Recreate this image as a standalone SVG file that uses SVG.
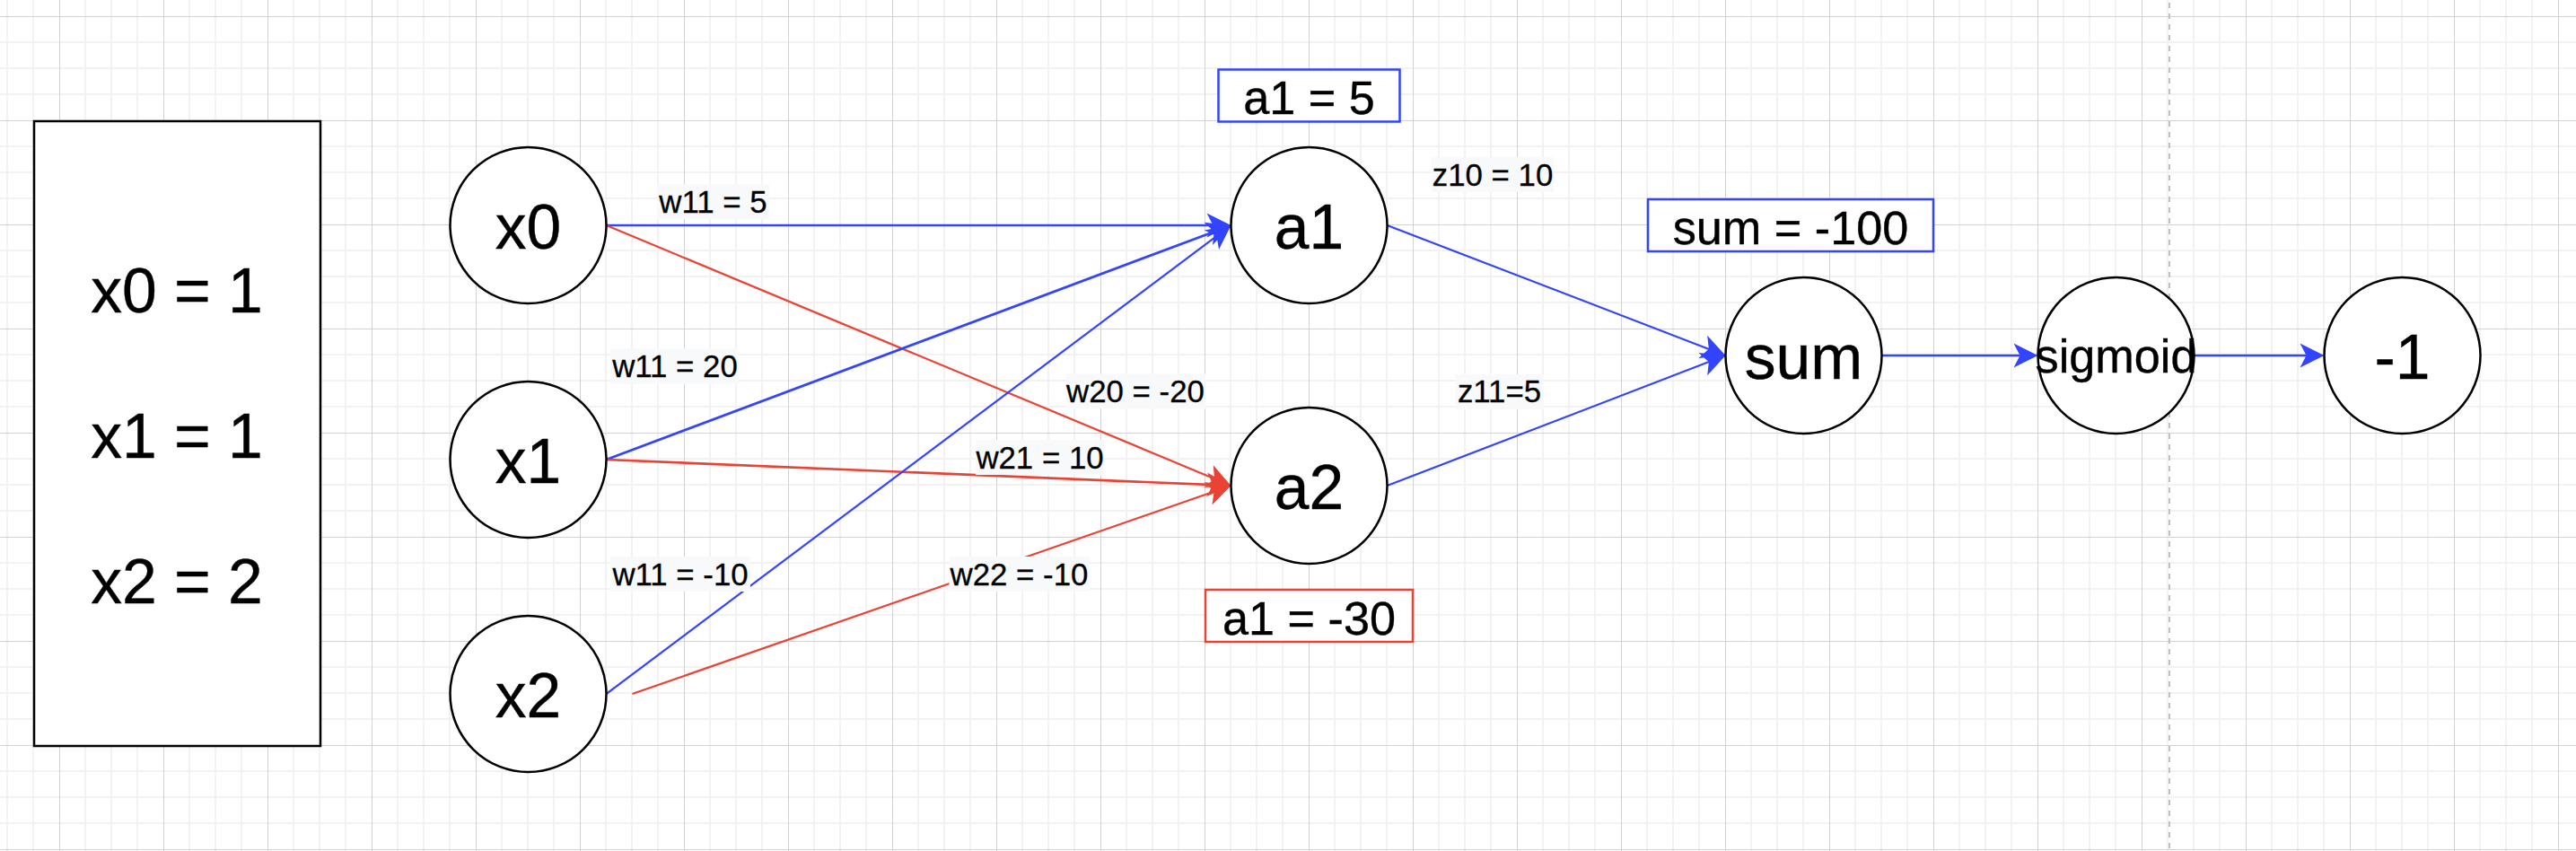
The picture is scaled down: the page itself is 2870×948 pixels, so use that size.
<svg xmlns="http://www.w3.org/2000/svg" width="2870" height="948" viewBox="0 0 2870 948">
  <style>
    text { font-family: "Liberation Sans", Arial, Helvetica, sans-serif; fill: #000000; stroke: #000000; stroke-width: 0.4; text-anchor: middle; }
    .big { font-size: 69.6px; }
    .mid { font-size: 52.2px; }
    .small { font-size: 34.8px; stroke-width: 0.3; }
    .node { fill: #ffffff; stroke: #000000; stroke-width: 2.5; }
    .box { fill: #ffffff; stroke: #000000; stroke-width: 2.5; }
    .bluebox { fill: #ffffff; stroke: #3344ff; stroke-width: 2.5; }
    .redbox { fill: #ffffff; stroke: #ea4335; stroke-width: 2.5; }
    .blue { stroke: #3344ff; fill: none; marker-end: url(#arrowBlue); }
    .red { stroke: #ea4335; fill: none; marker-end: url(#arrowRed); }
    .thick { stroke-width: 2.7; }
    .thin { stroke-width: 2.2; }
    .lblbg { fill: #f8f9fa; stroke: none; }
  </style>
  <defs>
    <pattern id="grid" patternUnits="userSpaceOnUse" x="66" y="18" width="116" height="116">
      <rect x="0" y="0" width="116" height="116" fill="#ffffff"/>
      <rect x="28" y="0" width="2" height="116" fill="#f2f2f2"/>
      <rect x="57" y="0" width="2" height="116" fill="#f2f2f2"/>
      <rect x="86" y="0" width="2" height="116" fill="#f2f2f2"/>
      <rect x="0" y="28" width="116" height="2" fill="#f2f2f2"/>
      <rect x="0" y="57" width="116" height="2" fill="#f2f2f2"/>
      <rect x="0" y="86" width="116" height="2" fill="#f2f2f2"/>
      <rect x="0" y="0" width="1" height="116" fill="#d2d2d2"/>
      <rect x="0" y="0" width="116" height="1" fill="#d2d2d2"/>
    </pattern>
    <marker id="arrowBlue" markerUnits="userSpaceOnUse" viewBox="0 0 27 27" markerWidth="27" markerHeight="27" refX="8" refY="13.5" orient="auto" overflow="visible">
      <path d="M0,0 L27,13.5 L0,27 L7,13.5 Z" fill="#3344ff"/>
    </marker>
    <marker id="arrowRed" markerUnits="userSpaceOnUse" viewBox="0 0 27 27" markerWidth="27" markerHeight="27" refX="8" refY="13.5" orient="auto" overflow="visible">
      <path d="M0,0 L27,13.5 L0,27 L7,13.5 Z" fill="#ea4335"/>
    </marker>
  </defs>

  <g id="background">
    <rect x="0" y="0" width="2870" height="948" fill="url(#grid)"/>
    <line x1="2417" y1="3" x2="2417" y2="948" stroke="#c0c0c0" stroke-width="2" stroke-dasharray="6 6"/>
  </g>

  <g id="connectors">
    <line class="blue thick" x1="675.5" y1="251" x2="1352.5" y2="251"/>
    <line class="red thin" x1="675.5" y1="251" x2="1353.96" y2="533.69"/>
    <line class="blue thick" x1="675.5" y1="512" x2="1353.71" y2="257.67"/>
    <line class="red thick" x1="675.5" y1="512" x2="1352.52" y2="540.21"/>
    <line class="blue thin" x1="675.5" y1="773" x2="1356.3" y2="262.4"/>
    <line class="red thin" x1="704.5" y1="773" x2="1353.55" y2="547.24"/>
    <line class="blue thin" x1="1545.5" y1="251" x2="1904.77" y2="389.18"/>
    <line class="blue thin" x1="1545.5" y1="541" x2="1904.77" y2="402.82"/>
    <line class="blue thick" x1="2096.5" y1="396" x2="2251.5" y2="396"/>
    <line class="blue thick" x1="2444.5" y1="396" x2="2570.5" y2="396"/>
  </g>

  <g id="edge-labels">
    <g id="lbl-w11-5">
      <rect class="lblbg" x="732" y="205" width="125" height="39"/>
      <text class="small" x="794.5" y="236.5">w11 = 5</text>
    </g>
    <g id="lbl-w11-20">
      <rect class="lblbg" x="680" y="388.5" width="143" height="39"/>
      <text class="small" x="752" y="420">w11 = 20</text>
    </g>
    <g id="lbl-w20--20">
      <rect class="lblbg" x="1188" y="416.5" width="155" height="39"/>
      <text class="small" x="1265" y="448">w20 = -20</text>
    </g>
    <g id="lbl-w21-10">
      <rect class="lblbg" x="1087" y="490" width="143" height="39"/>
      <text class="small" x="1158.5" y="521.5">w21 = 10</text>
    </g>
    <g id="lbl-w11--10">
      <rect class="lblbg" x="680" y="620" width="156" height="39"/>
      <text class="small" x="758" y="651.5">w11 = -10</text>
    </g>
    <g id="lbl-w22--10">
      <rect class="lblbg" x="1057.5" y="620" width="156" height="39"/>
      <text class="small" x="1135.5" y="651.5">w22 = -10</text>
    </g>
    <g id="lbl-z10-10">
      <rect class="lblbg" x="1595" y="175" width="136" height="39"/>
      <text class="small" x="1663" y="206.5">z10 = 10</text>
    </g>
    <g id="lbl-z11-5">
      <rect class="lblbg" x="1621" y="417" width="99" height="39"/>
      <text class="small" x="1670.5" y="448.3">z11=5</text>
    </g>
  </g>

  <g id="inputs-box">
    <rect class="box" x="38" y="135" width="319" height="696"/>
    <text class="big" x="197" y="348">x0 = 1</text>
    <text class="big" x="197" y="510">x1 = 1</text>
    <text class="big" x="197" y="672">x2 = 2</text>
  </g>

  <g id="node-x0">
    <circle class="node" cx="588.5" cy="251" r="87"/>
    <text class="big" x="588.5" y="277">x0</text>
  </g>
  <g id="node-x1">
    <circle class="node" cx="588.5" cy="512" r="87"/>
    <text class="big" x="588.5" y="538">x1</text>
  </g>
  <g id="node-x2">
    <circle class="node" cx="588.5" cy="773" r="87"/>
    <text class="big" x="588.5" y="799">x2</text>
  </g>
  <g id="node-a1">
    <circle class="node" cx="1458.5" cy="251" r="87"/>
    <text class="big" x="1458.5" y="277">a1</text>
  </g>
  <g id="node-a2">
    <circle class="node" cx="1458.5" cy="541" r="87"/>
    <text class="big" x="1458.5" y="567">a2</text>
  </g>
  <g id="node-sum">
    <circle class="node" cx="2009.5" cy="396" r="87"/>
    <text class="big" x="2009.5" y="422">sum</text>
  </g>
  <g id="node-sigmoid">
    <circle class="node" cx="2357.5" cy="396" r="87"/>
    <text class="mid" x="2357.5" y="415">sigmoid</text>
  </g>
  <g id="node-out">
    <circle class="node" cx="2676.5" cy="396" r="87"/>
    <text class="big" x="2676.5" y="422">-1</text>
  </g>

  <g id="box-a1">
    <rect class="bluebox" x="1357.5" y="77.5" width="202" height="58"/>
    <text class="mid" x="1458.5" y="126.5">a1 = 5</text>
  </g>
  <g id="box-a2">
    <rect class="redbox" x="1343" y="657" width="231" height="58"/>
    <text class="mid" x="1458.5" y="706.5">a1 = -30</text>
  </g>
  <g id="box-sum">
    <rect class="bluebox" x="1836" y="222" width="318" height="58"/>
    <text class="mid" x="1995" y="271.5">sum = -100</text>
  </g>
</svg>
